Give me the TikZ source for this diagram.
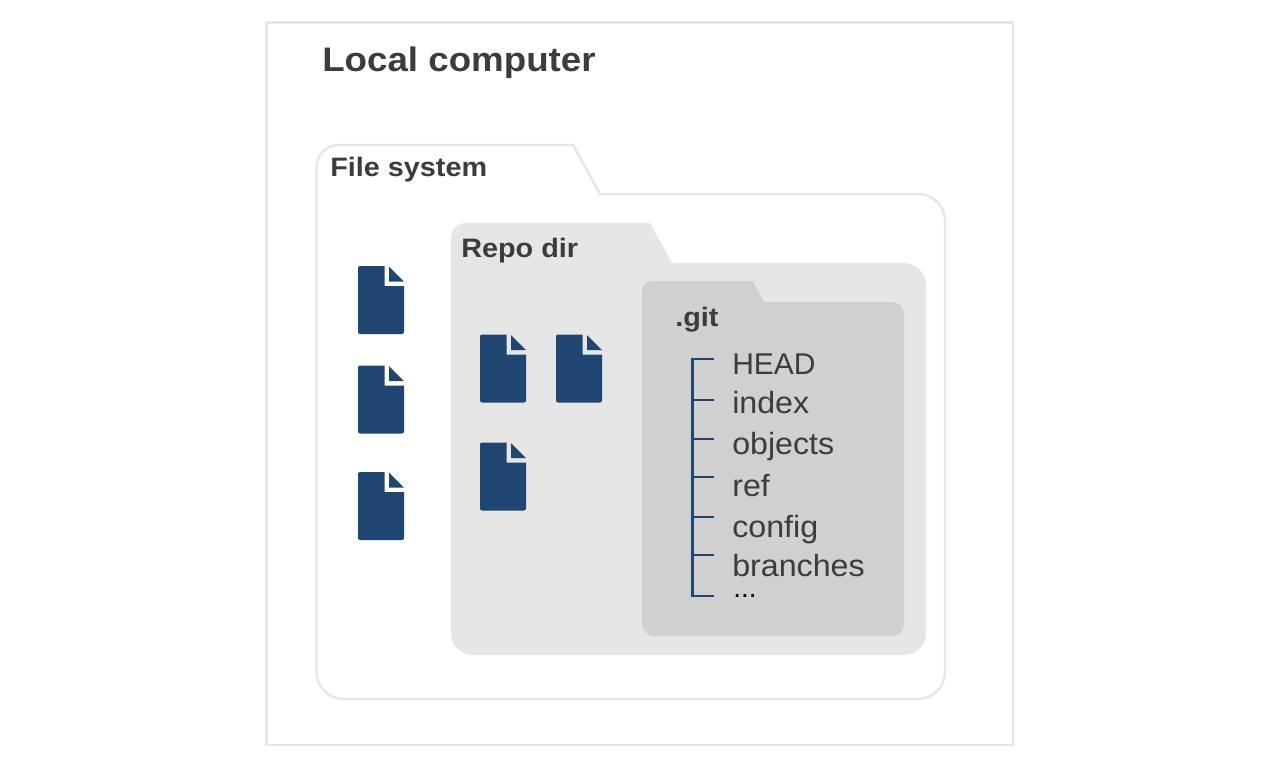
\documentclass[tikz,border=0pt]{standalone}
\usepackage{fontspec}
\setmainfont{Liberation Sans}
\newfontfamily\widebold[FakeStretch=1.08]{Liberation Sans Bold}
\newfontfamily\wideregular[FakeStretch=1.05]{Liberation Sans}
\definecolor{ink}{HTML}{3D3B3B}
\definecolor{navy}{HTML}{1F4571}
\definecolor{paleline}{HTML}{E6E6E6}
\definecolor{repofill}{HTML}{E6E6E6}
\definecolor{gitfill}{HTML}{D0D0D0}
\tikzset{
  x=0.75pt,y=-0.75pt,
  title/.style={anchor=base west,inner sep=0pt,text=ink,font=\fontsize{25.5pt}{28pt}\widebold},
  foldername/.style={anchor=base west,inner sep=0pt,text=ink,font=\fontsize{20pt}{24pt}\widebold},
  entry/.style={anchor=base west,inner sep=0pt,text=ink,font=\fontsize{23pt}{26pt}\wideregular},
  outline/.style={draw=paleline,line width=1.75pt},
  branch/.style={draw=navy,line width=1.8pt},
  pics/docicon/.style={code={
    \fill[navy] (0,2) arc[start angle=180,end angle=270,radius=2] -- (26.5,0) -- (26.5,20) -- (46,20)
      -- (46,66) arc[start angle=0,end angle=90,radius=2] -- (2,68) arc[start angle=90,end angle=180,radius=2] -- cycle;
    \fill[navy] (31,0.5) -- (46,15.5) -- (31,15.5) -- cycle;
  }},
}
\begin{document}
\begin{tikzpicture}
\useasboundingbox (0,0) rectangle (1280,765);
\fill[white] (0,0) rectangle (1280,765);
\draw[outline] (266.5,22.5) rectangle (1013,745);
\node[title] (local) at (322,71) {Local computer};
% file system folder
\draw[outline] (316.5,167) arc[start angle=180,end angle=270,radius=22] -- (573,145) -- (600,194)
  -- (918,194) arc[start angle=270,end angle=360,radius=27] -- (945,672)
  arc[start angle=0,end angle=90,radius=27] -- (343.5,699)
  arc[start angle=90,end angle=180,radius=27] -- cycle;
\node[foldername] (fs) at (330,176) {File system};
% repo folder
\fill[repofill] (451,238) arc[start angle=180,end angle=270,radius=15] -- (650,223) -- (672,263)
  -- (904,263) arc[start angle=270,end angle=360,radius=22] -- (926,633)
  arc[start angle=0,end angle=90,radius=22] -- (473,655)
  arc[start angle=90,end angle=180,radius=22] -- cycle;
\node[foldername] (repo) at (461,257) {Repo dir};
% git folder
\fill[gitfill] (642,291) arc[start angle=180,end angle=270,radius=10] -- (752.5,281) -- (764,302)
  -- (892,302) arc[start angle=270,end angle=360,radius=12] -- (904,624)
  arc[start angle=0,end angle=90,radius=12] -- (654,636)
  arc[start angle=90,end angle=180,radius=12] -- cycle;
\node[foldername] (git) at (675,326) {.git};
% icons
\pic at (358,266) {docicon};
\pic at (358,365.5) {docicon};
\pic at (358,472) {docicon};
\pic at (480,334.5) {docicon};
\pic at (556,334.5) {docicon};
\pic at (480,442.5) {docicon};
% tree
\coordinate (t0) at (714,359);
\coordinate (t1) at (714,400);
\coordinate (t2) at (714,439);
\coordinate (t3) at (714,477);
\coordinate (t4) at (714,517);
\coordinate (t5) at (714,555);
\coordinate (t6) at (714,596);
\draw[branch] (t0) -- (692.5,359) -- (692.5,596) -- (t6);
\foreach \k in {1,...,5} \draw[branch] (t\k) -- (692.5,0 |- t\k);
\node[entry,font=\fontsize{22.5pt}{26pt}\rmfamily] (n0) at (732,374) {HEAD};
\node[entry] (n1) at (732,413) {index};
\node[entry] (n2) at (732,454) {objects};
\node[entry] (n3) at (732,496) {ref};
\node[entry] (n4) at (732,537) {config};
\node[entry] (n5) at (732,576) {branches};
\node[anchor=base west,inner sep=0pt,text=black,font=\fontsize{21pt}{24pt}\selectfont] (n6) at (733,597) {...};
\end{tikzpicture}
\end{document}
